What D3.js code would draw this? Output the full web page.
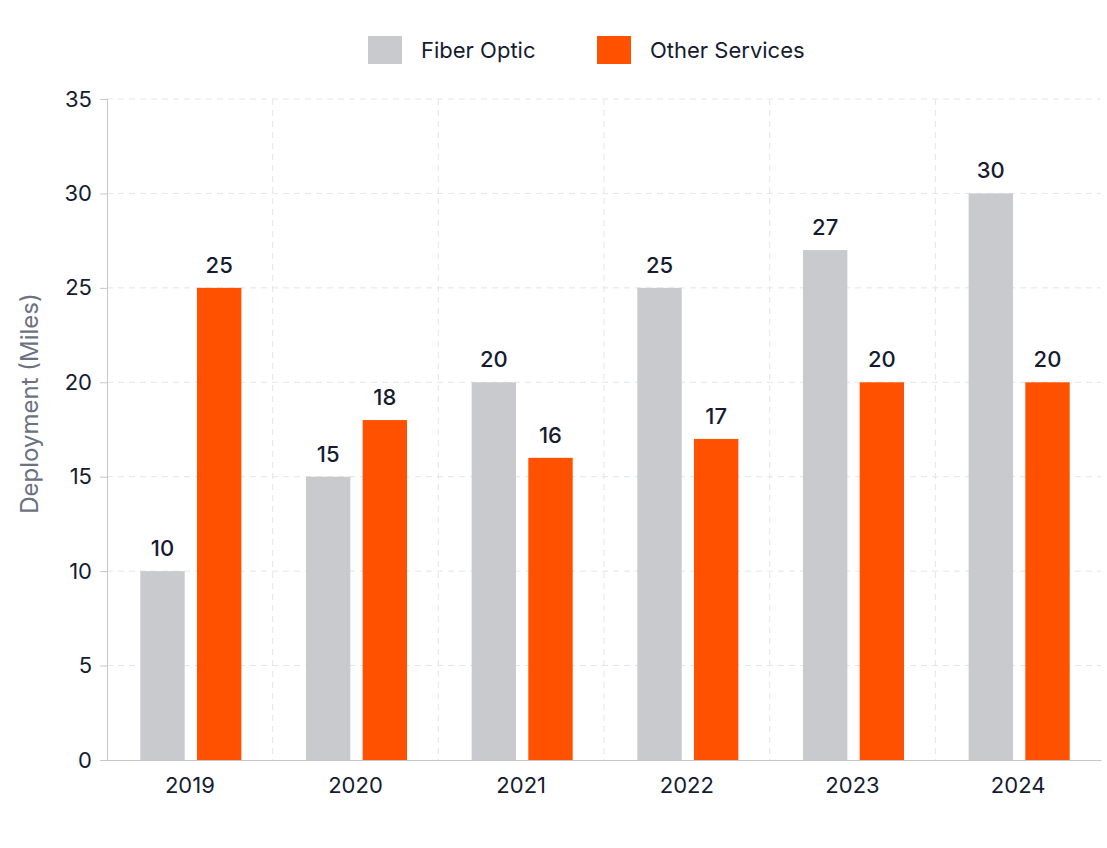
<html>
<meta charset="utf-8" />
<head>
<title>Deployment chart</title>
<script src="https://cdn.jsdelivr.net/npm/d3@7"></script>
<style>
	body { margin: 0; background: #fff; }
	svg { font-family: Inter, "Noto Sans", sans-serif; }
</style>
<script>
const years = ['2019', '2020', '2021', '2022', '2023', '2024'];
const seriesNames = ['Fiber Optic', 'Other Services'];
const fiberOptic = [10, 15, 20, 25, 27, 30];
const otherServices = [25, 18, 16, 17, 20, 20];
const yTicks = [0, 5, 10, 15, 20, 25, 30, 35];
const colors = ['#c8cace', '#ff5100'];

window.onload = function() {
	const width = 1107, height = 848;
	const margin = { left: 107, right: 6, top: 99, bottom: 88 };

	let svg = d3.select('body').append('svg')
		.attr('width', width)
		.attr('height', height);

	let x = d3.scaleBand()
		.domain(years)
		.range([margin.left, width - margin.right]);

	let xInner = d3.scaleBand()
		.domain(seriesNames)
		.range([0, x.bandwidth()])
		.paddingInner(0.217)
		.paddingOuter(0.57);

	let y = d3.scaleLinear()
		.domain([0, 35])
		.range([height - margin.bottom, margin.top]);

	// grid
	svg.append('g')
		.selectAll('line')
		.data(yTicks.filter(d => d > 0))
		.enter()
		.append('line')
		.attr('x1', margin.left)
		.attr('x2', width - margin.right)
		.attr('y1', d => y(d))
		.attr('y2', d => y(d))
		.style('stroke', '#e3e5e9')
		.style('stroke-dasharray', '6,5');

	svg.append('g')
		.selectAll('line')
		.data(years.slice(1))
		.enter()
		.append('line')
		.attr('x1', d => x(d))
		.attr('x2', d => x(d))
		.attr('y1', y(35))
		.attr('y2', y(0))
		.style('stroke', '#e3e5e9')
		.style('stroke-dasharray', '6,5');

	// axes
	let yAxis = svg.append('g')
		.attr('transform', `translate(${margin.left},0)`)
		.call(d3.axisLeft(y).tickValues(yTicks).tickSize(7).tickPadding(8));
	yAxis.select('.domain').style('stroke', '#c3c6cc');
	yAxis.selectAll('.tick line').style('stroke', '#c3c6cc');
	yAxis.selectAll('text')
		.style('font-size', '22px')
		.style('fill', '#151b30')
		.style('font-family', 'Inter, sans-serif');

	let xAxis = svg.append('g')
		.attr('transform', `translate(0,${y(0)})`)
		.call(d3.axisBottom(x).tickSize(0).tickPadding(17));
	xAxis.select('.domain').style('stroke', '#c3c6cc');
	xAxis.selectAll('text')
		.style('font-size', '22px')
		.style('fill', '#151b30')
		.style('font-family', 'Inter, sans-serif');

	svg.append('text')
		.attr('transform', `translate(38,${(y(0) + y(35)) / 2 - 26}) rotate(-90)`)
		.attr('text-anchor', 'middle')
		.style('font-size', '24px')
		.style('fill', '#6b7280')
		.text('Deployment (Miles)');

	// bars
	let rows = years.map((yr, i) => ({ year: yr, values: [fiberOptic[i], otherServices[i]] }));

	let groups = svg.selectAll('g.group')
		.data(rows)
		.enter()
		.append('g')
		.attr('class', 'group')
		.attr('transform', d => `translate(${x(d.year) + 1},0)`);

	groups.selectAll('rect')
		.data(d => d.values.map((v, j) => ({ name: seriesNames[j], value: v, j: j })))
		.enter()
		.append('rect')
		.attr('x', d => xInner(d.name))
		.attr('width', xInner.bandwidth())
		.attr('y', d => y(d.value))
		.attr('height', d => y(0) - y(d.value))
		.style('fill', d => colors[d.j]);

	groups.selectAll('text.val')
		.data(d => d.values.map((v, j) => ({ name: seriesNames[j], value: v })))
		.enter()
		.append('text')
		.attr('class', 'val')
		.attr('x', d => xInner(d.name) + xInner.bandwidth() / 2)
		.attr('y', d => y(d.value) - 15)
		.attr('text-anchor', 'middle')
		.style('font-size', '22px')
		.style('font-weight', 500)
		.style('fill', '#151b30')
		.text(d => d.value);

	// legend
	let legend = svg.append('g')
		.selectAll('g')
		.data(seriesNames)
		.enter()
		.append('g')
		.attr('transform', (d, i) => `translate(${[368, 597][i]},36)`);

	legend.append('rect')
		.attr('width', 34)
		.attr('height', 28)
		.style('fill', (d, i) => colors[i]);

	legend.append('text')
		.attr('x', 53)
		.attr('y', 22)
		.style('font-size', '22px')
		.style('fill', '#151b30')
		.text(d => d);
}
</script>
</head>
<body>
</body>
</html>
